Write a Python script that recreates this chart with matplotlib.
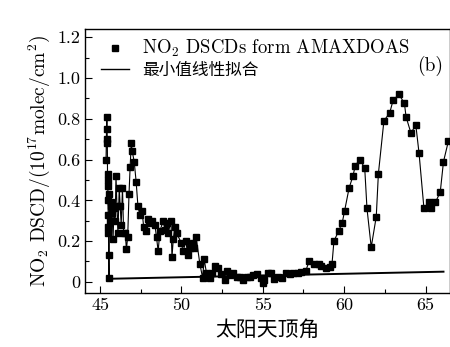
import matplotlib
matplotlib.use("Agg")
import matplotlib.pyplot as plt
from matplotlib.lines import Line2D
from matplotlib.ticker import MultipleLocator, FixedLocator, FuncFormatter

plt.rcParams['font.family'] = ['cmr10', 'Noto Sans CJK SC', 'DejaVu Sans']
plt.rcParams['mathtext.fontset'] = 'cm'
plt.rcParams['axes.unicode_minus'] = False

# 太阳天顶角 (deg) 与 NO2 DSCD (1e17 molec/cm2)
sza = [45.37, 45.40, 45.42, 45.44, 45.45, 45.46, 45.47, 45.48, 45.49, 45.50,
       45.51, 45.52, 45.53, 45.55, 45.58, 45.62, 45.66, 45.70, 45.74, 45.80,
       45.86, 45.93, 45.98, 46.04, 46.10, 46.18, 46.24, 46.30, 46.38, 46.45,
       46.55, 46.62, 46.70, 46.78, 46.85, 46.92, 46.98, 47.10, 47.22, 47.33,
       47.45, 47.58, 47.68, 47.80, 47.92, 48.02, 48.17, 48.37, 48.47, 48.57,
       48.68, 48.88, 48.99, 49.09, 49.19, 49.36, 49.42, 49.50, 49.60, 49.70,
       50.00, 50.10, 50.27, 50.40, 50.52, 50.70, 50.80, 50.90, 51.13, 51.30,
       51.40, 51.54, 51.75, 51.85, 52.05, 52.26, 52.46, 52.67, 52.80, 52.98,
       53.17, 53.40, 53.60, 53.80, 54.00, 54.20, 54.40, 54.67, 54.90, 55.00,
       55.10, 55.30, 55.50, 55.70, 55.95, 56.15, 56.45, 56.65, 56.85, 57.16,
       57.37, 57.64, 57.84, 58.13, 58.43, 58.60, 58.86, 59.10, 59.25, 59.37,
       59.66, 59.88, 60.03, 60.30, 60.54, 60.68, 60.95, 61.26, 61.40, 61.66,
       61.97, 62.10, 62.44, 62.80, 63.00, 63.36, 63.70, 63.80, 64.10, 64.40,
       64.60, 64.90, 65.20, 65.35, 65.60, 65.90, 66.10, 66.40]
dscd = [0.60, 0.75, 0.81, 0.70, 0.68, 0.53, 0.50, 0.47, 0.40, 0.33,
        0.27, 0.24, 0.13, 0.02, 0.43, 0.30, 0.37, 0.39, 0.34, 0.21,
        0.36, 0.30, 0.52, 0.37, 0.24, 0.46, 0.37, 0.28, 0.46, 0.24,
        0.24, 0.16, 0.22, 0.43, 0.565, 0.68, 0.64, 0.59, 0.49, 0.37,
        0.33, 0.35, 0.27, 0.25, 0.31, 0.29, 0.30, 0.28, 0.22, 0.15,
        0.25, 0.30, 0.255, 0.29, 0.24, 0.30, 0.12, 0.21, 0.27, 0.24,
        0.19, 0.15, 0.20, 0.13, 0.165, 0.19, 0.165, 0.22, 0.09, 0.02,
        0.11, 0.043, 0.02, 0.043, 0.08, 0.067, 0.04, 0.01, 0.055, 0.034,
        0.043, 0.026, 0.026, 0.01, 0.026, 0.023, 0.034, 0.04, 0.018, -0.005,
        0.01, 0.045, 0.043, 0.013, 0.023, 0.018, 0.045, 0.04, 0.045, 0.045,
        0.046, 0.054, 0.10, 0.087, 0.09, 0.08, 0.07, 0.072, 0.087, 0.20,
        0.25, 0.29, 0.35, 0.46, 0.52, 0.57, 0.60, 0.56, 0.36, 0.17,
        0.32, 0.53, 0.79, 0.83, 0.89, 0.92, 0.876, 0.81, 0.73, 0.77,
        0.63, 0.36, 0.39, 0.36, 0.39, 0.44, 0.59, 0.69]

# 最小值线性拟合
fit_sza = [45.5, 66.1]
fit_dscd = [0.015, 0.05]

fig = plt.figure(figsize=(4.5, 3.47), dpi=100)
ax = fig.add_axes([0.189, 0.156, 0.811, 0.76])

ax.plot(sza, dscd, color='black', lw=0.8, marker='s', ms=3.8)
ax.plot(fit_sza, fit_dscd, color='black', lw=1.4)

ax.set_xlim(44.08, 66.5)
ax.set_ylim(-0.054, 1.24)
ax.xaxis.set_major_locator(FixedLocator([45, 50, 55, 60, 65]))
ax.xaxis.set_minor_locator(MultipleLocator(2.5))
ax.yaxis.set_major_locator(MultipleLocator(0.2))
ax.yaxis.set_minor_locator(MultipleLocator(0.1))
ax.yaxis.set_major_formatter(FuncFormatter(lambda v, p: '0' if abs(v) < 1e-9 else f'{v:.1f}'))
ax.tick_params(which='both', direction='in', top=False, right=False, labelsize=13, width=0.8)
ax.tick_params(which='major', length=5)
ax.tick_params(which='minor', length=3)
for s in ax.spines.values():
    s.set_linewidth(1.0)

ax.set_xlabel('太阳天顶角', fontsize=15, family=['Noto Sans CJK SC'], labelpad=4)
ax.set_ylabel(r'NO$_2$ DSCD/(10$^{17}$molec/cm$^2$)', fontsize=14, labelpad=4)

handles = [Line2D([], [], ls='none', marker='s', ms=3.8, color='black'),
           Line2D([], [], color='black', lw=1.0)]
labels = [r'NO$_2$ DSCDs form AMAXDOAS', '最小值线性拟合']
leg = ax.legend(handles, labels, loc='upper left', frameon=False, fontsize=12,
                handlelength=1.7, borderaxespad=0.1, labelspacing=0.25,
                handletextpad=0.8, bbox_to_anchor=(0.02, 1.0))
leg.get_texts()[0].set_fontsize(13.5)
ax.text(64.5, 1.06, '(b)', fontsize=14, ha='left', va='center')

fig.savefig('out.png', dpi=100)
